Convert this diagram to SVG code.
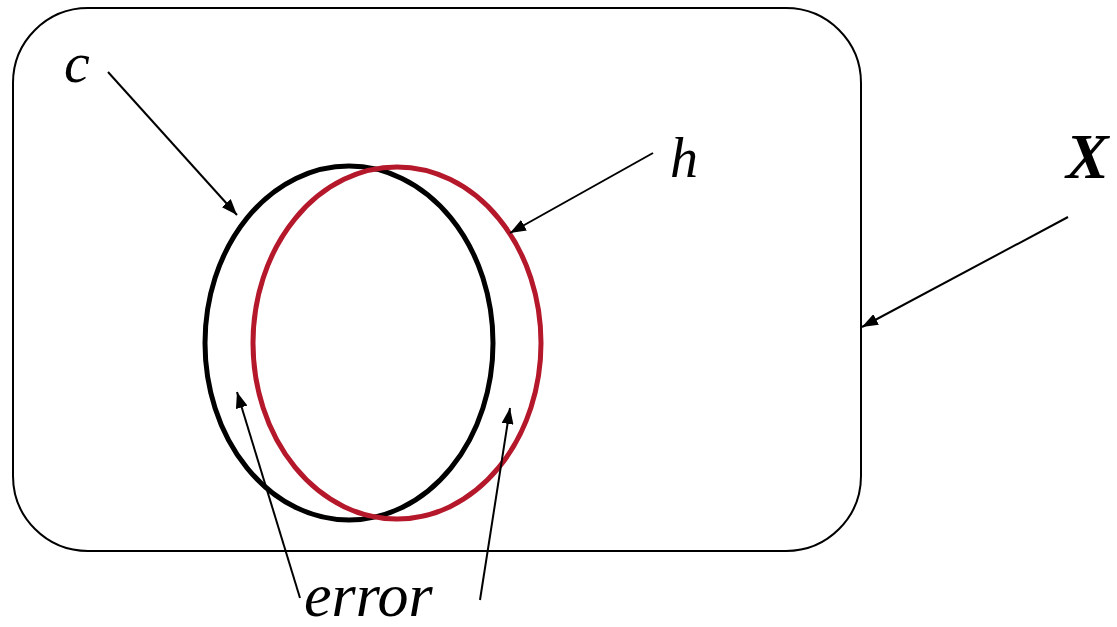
<svg xmlns="http://www.w3.org/2000/svg" width="1117" height="627" viewBox="0 0 1117 627">
<style>
.lbl{font-family:"Liberation Serif","Times New Roman",serif;font-style:italic;fill:#000}
.conn{stroke:#000;stroke-width:2;fill:none}
</style>
<defs>
<marker id="ah" viewBox="0 0 16 12" refX="16" refY="6" markerWidth="16" markerHeight="12" markerUnits="userSpaceOnUse" orient="auto">
<path d="M0,0 L16,6 L0,12 Z" fill="#000"/>
</marker>
</defs>
<rect width="1117" height="627" fill="#fff"/>
<g id="X-set">
<rect x="13" y="8" width="848" height="543" rx="75" ry="75" fill="none" stroke="#000" stroke-width="2"/>
</g>
<g id="c-set">
<ellipse cx="349" cy="343" rx="144" ry="177" fill="none" stroke="#000" stroke-width="5"/>
</g>
<g id="h-set">
<ellipse cx="397" cy="343" rx="144" ry="176" fill="none" stroke="#b5182b" stroke-width="5"/>
</g>
<g id="labels">
<text class="lbl" x="64" y="82" font-size="58">c</text>
<text class="lbl" x="670" y="177" font-size="56">h</text>
<text class="lbl" x="1066" y="178" font-size="64" font-weight="bold">X</text>
<text class="lbl" x="304" y="616" font-size="62">error</text>
</g>
<g id="connectors">
<line class="conn" x1="108" y1="72" x2="237" y2="215" marker-end="url(#ah)"/>
<line class="conn" x1="653" y1="153" x2="510" y2="233" marker-end="url(#ah)"/>
<line class="conn" x1="1068" y1="217" x2="862" y2="327" marker-end="url(#ah)"/>
<line class="conn" x1="300" y1="598" x2="237" y2="392" marker-end="url(#ah)"/>
<line class="conn" x1="480" y1="600" x2="510" y2="408" marker-end="url(#ah)"/>
</g>
</svg>
